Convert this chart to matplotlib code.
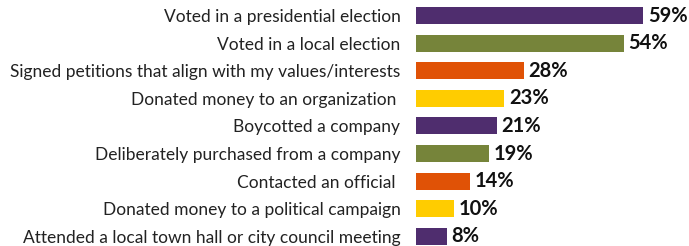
import matplotlib
matplotlib.use("Agg")
import matplotlib.pyplot as plt

categories = [
    "Voted in a presidential election",
    "Voted in a local election",
    "Signed petitions that align with my values/interests",
    "Donated money to an organization ",
    "Boycotted a company",
    "Deliberately purchased from a company",
    "Contacted an official ",
    "Donated money to a political campaign",
    "Attended a local town hall or city council meeting",
]
values = [59, 54, 28, 23, 21, 19, 14, 10, 8]
palette = ["#4F2D6E", "#76843A", "#E05206", "#FFCC00"]
colors = [palette[i % 4] for i in range(len(values))]

plt.rcParams['font.family'] = ['Lato', 'DejaVu Sans']

W, H = 689, 246
fig = plt.figure(figsize=(W / 100, H / 100), dpi=100)
x0 = 415.7
ax = fig.add_axes([x0 / W, 0, 1 - x0 / W, 1])
pitch = 27.6
c0 = 15.5
ax.set_ylim((H - c0) / pitch, (0 - c0) / pitch)
ax.set_xlim(0, (W - x0) / 3.856)

y = list(range(len(values)))
ax.barh(y, values, height=0.62, color=colors)
for yi, v in zip(y, values):
    ax.text(v + 1.2, yi, f"{v}%", va="center", ha="left", fontsize=14.5,
            fontweight="bold", color="#111111")

ax.set_yticks(y)
ax.set_yticklabels(categories, fontsize=12.5, color="#222222")
ax.tick_params(axis="y", length=0, pad=11)
ax.set_xticks([])
for s in ax.spines.values():
    s.set_visible(False)

fig.savefig("out.png", dpi=100)
